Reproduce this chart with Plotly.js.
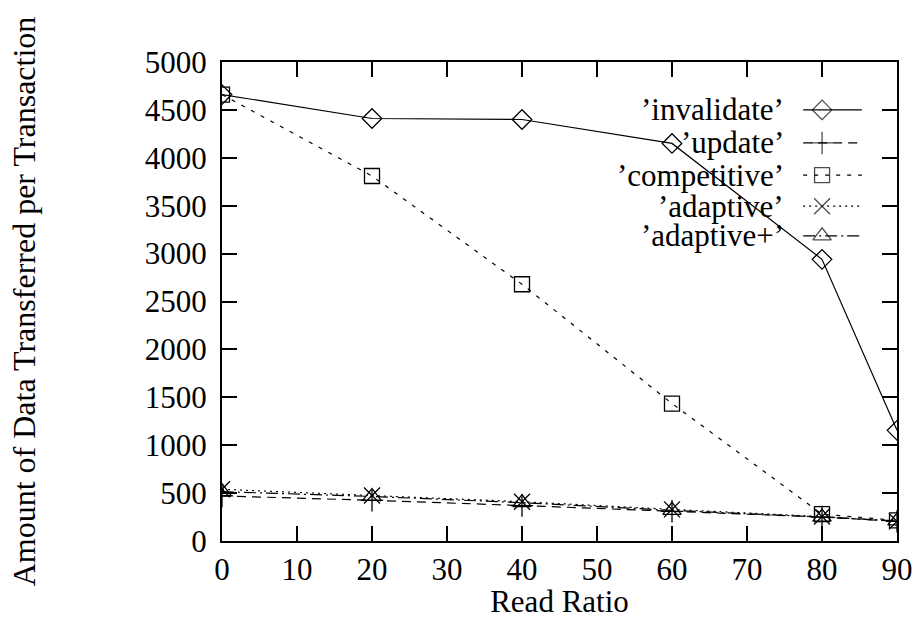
<!DOCTYPE html>
<html>
<head>
<meta charset="utf-8">
<script src="https://cdn.plot.ly/plotly-3.0.1.min.js"></script>
<style>html,body{margin:0;padding:0;background:#fff;font-family:'Liberation Serif';}#chart{width:917px;height:619px;}</style>
</head>
<body>
<div id="chart"></div>
<script>
var readRatio = [0, 20, 40, 60, 80, 90];
var invalidate = [4660, 4410, 4400, 4150, 2940, 1155];
var update = [470, 425, 370, 310, 250, 205];
var competitive = [4660, 3810, 2680, 1435, 280, 215];
var adaptive = [540, 475, 410, 330, 255, 205];
var adaptivePlus = [515, 465, 400, 320, 250, 210];
var seriesNames = ["\u2019invalidate\u2019", "\u2019update\u2019", "\u2019competitive\u2019", "\u2019adaptive\u2019", "\u2019adaptive+\u2019"];
var xTicks = [0, 10, 20, 30, 40, 50, 60, 70, 80, 90];
var yTicks = [0, 500, 1000, 1500, 2000, 2500, 3000, 3500, 4000, 4500, 5000];

var FONT = 'Liberation Serif';
var FS = 31;
var styles = [
  {symbol: 'diamond-open', dash: 'solid', size: 15},
  {symbol: 'cross-thin-open', dash: '9px,6px', size: 16},
  {symbol: 'square-open', dash: '4px,7px', size: 15},
  {symbol: 'x-thin-open', dash: '2px,4px', size: 16},
  {symbol: 'triangle-up-open', dash: '12px,4px,2px,4px', size: 16}
];
var allY = [invalidate, update, competitive, adaptive, adaptivePlus];

var traces = [];
allY.forEach(function (ys, i) {
  traces.push({
    x: readRatio, y: ys, mode: 'lines+markers', showlegend: false,
    line: {color: '#000', width: 1.2, dash: styles[i].dash},
    marker: {symbol: styles[i].symbol, size: styles[i].size, color: '#000', line: {color: '#000', width: 1.3}},
    hoverinfo: 'skip'
  });
});

// legend samples on an overlay unit axis (layout only)
var legX0 = 0.861, legX1 = 0.948, legXm = 0.889;
var legRows = [0.900, 0.831, 0.764, 0.699, 0.637];
var annotations = [];
seriesNames.forEach(function (nm, i) {
  traces.push({
    x: [legX0, legXm, legX1], y: [legRows[i], legRows[i], legRows[i]],
    xaxis: 'x2', yaxis: 'y2', mode: 'lines+markers', showlegend: false,
    line: {color: '#000', width: 1.2, dash: styles[i].dash},
    marker: {symbol: styles[i].symbol, size: [0, styles[i].size, 0], color: '#000', line: {color: '#000', width: 1.3}},
    hoverinfo: 'skip'
  });
  annotations.push({
    xref: 'x2', yref: 'y2', x: 0.834, y: legRows[i], xanchor: 'right', yanchor: 'middle',
    text: nm, showarrow: false, font: {family: FONT, size: 31, color: '#000'},
    borderpad: 0
  });
});

var axisCommon = {
  showgrid: false, zeroline: false, showline: true, mirror: 'ticks',
  linecolor: '#000', linewidth: 2, ticks: 'inside', ticklen: 15, tickwidth: 2, tickcolor: '#000',
  tickfont: {family: FONT, size: FS, color: '#000'}
};

var layout = {
  width: 917, height: 619,
  margin: {l: 222, r: 20, t: 62, b: 78},
  paper_bgcolor: '#fff', plot_bgcolor: '#fff',
  font: {family: FONT, color: '#000'},
  xaxis: Object.assign({}, axisCommon, {
    range: [0, 90], tickvals: xTicks, ticktext: xTicks.map(String),
    title: {text: 'Read Ratio', font: {family: FONT, size: FS, color: '#000'}, standoff: 1}
  }),
  yaxis: Object.assign({}, axisCommon, {
    range: [0, 5000], tickvals: yTicks, ticktext: yTicks.map(String), ticklabelstandoff: 7,
    title: {text: 'Amount of Data Transferred per Transaction', font: {family: FONT, size: 32, color: '#000'}, standoff: 100}
  }),
  xaxis2: {overlaying: 'x', range: [0, 1], visible: false, fixedrange: true},
  yaxis2: {overlaying: 'y', range: [0, 1], visible: false, fixedrange: true},
  annotations: annotations
};

Plotly.newPlot('chart', traces, layout, {displayModeBar: false});
</script>
</body>
</html>
